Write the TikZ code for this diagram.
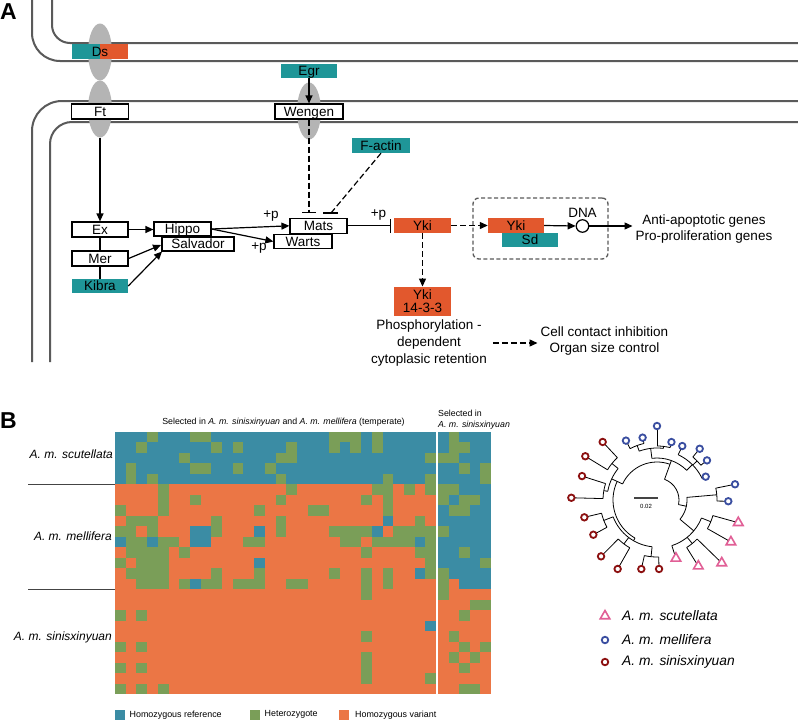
\documentclass[tikz,border=0pt]{standalone}
\usepackage{fontspec}
\setmainfont{Liberation Sans}
\usetikzlibrary{arrows.meta,shapes.geometric,calc}
\definecolor{tealA}{HTML}{1F9698}
\definecolor{orangeA}{HTML}{E2582D}
\definecolor{memgray}{HTML}{5A5A5A}
\definecolor{ellgray}{HTML}{B4B4B4}
\definecolor{hT}{HTML}{3B8CA4}
\definecolor{hG}{HTML}{7A9E58}
\definecolor{hO}{HTML}{EB7645}
\definecolor{mBlue}{HTML}{3A4EA0}
\definecolor{mRed}{HTML}{8C1010}
\definecolor{mPink}{HTML}{E15F96}
\definecolor{lineG}{HTML}{444444}
\newcommand\Tst[3]{\draw[tl] (#1:#2) -- (#1:#3);}
\newcommand\Tarc[3]{\draw[tl] (#1:#3) arc[start angle=#1, end angle=#2, radius=#3];}
\begin{document}
\begin{tikzpicture}[x=1pt,y=-1pt, font=\fontsize{13.5}{16}\selectfont,
  membrane/.style={draw=memgray, line width=2pt},
  memb/.style={ellipse, fill=ellgray, minimum width=24pt, minimum height=57pt, inner sep=0pt},
  lbl/.style={inner sep=0pt, text height=9.7pt, text depth=0pt},
  wbox/.style={lbl, draw=black, line width=1.2pt, fill=white, minimum height=15pt},
  tbox/.style={lbl, fill=tealA, minimum height=14.5pt},
  obox/.style={lbl, fill=orangeA, minimum height=15pt},
  conn/.style={line width=1.2pt},
  arr/.style={conn, -{Triangle[length=8pt,width=7pt]}},
  dsh/.style={dash pattern=on 6pt off 3pt},
  inh/.style={conn, -{Bar[width=14pt]}},
  txt/.style={inner sep=0pt, align=center},
  tl/.style={line width=0.8pt},
  bc/.style={circle, draw=mBlue, line width=1.8pt, fill=white, minimum size=6.5pt, inner sep=0pt},
  rc/.style={circle, draw=mRed, line width=1.8pt, fill=white, minimum size=6.5pt, inner sep=0pt},
  pt/.style={regular polygon, regular polygon sides=3, draw=mPink, line width=1.6pt, fill=white, minimum size=11pt, inner sep=0pt},
  hfont/.style={font=\fontsize{8.8}{11}\selectfont},
]
\useasboundingbox (0,0) rectangle (798,720);
\fill[white] (0,0) rectangle (798,720);

% ---------- Panel A ----------
\node[anchor=north west, inner sep=0pt, font=\fontsize{23}{23}\selectfont\bfseries] (labA) at (0,3) {A};

\draw[membrane, rounded corners=28pt] (32,-3) -- (32,61) -- (801,61);
\draw[membrane, rounded corners=18pt] (52,-3) -- (52,43) -- (801,43);
\draw[membrane, rounded corners=30pt] (32,362) -- (32,101) -- (801,101);
\draw[membrane, rounded corners=22pt] (50,362) -- (50,122) -- (801,122);

\node[memb] (dsE) at (100,52) {};
\node[memb] (ftE) at (100,109) {};
\node[memb] (wgE) at (309,111) {};

\fill[tealA] (72,44.3) rectangle (100,59);
\fill[orangeA] (100,44.3) rectangle (128,59);
\node[lbl] (ds) at (100,51.7) {Ds};

\node[wbox, minimum width=57pt] (ft) at (100,111.5) {Ft};
\node[tbox, minimum width=56pt, minimum height=14pt] (egr) at (309,71) {Egr};
\node[wbox, minimum width=68pt] (wengen) at (309,111.5) {Wengen};
\node[tbox, minimum width=58pt, minimum height=15pt] (factin) at (381,145.5) {F-actin};

\node[wbox, minimum width=56pt] (ex) at (100,229.5) {Ex};
\node[wbox, minimum width=56pt] (mer) at (100,258.5) {Mer};
\node[tbox, minimum width=56pt] (kibra) at (100,286) {Kibra};
\node[wbox, minimum width=57pt, minimum height=14pt] (hippo) at (182.5,229) {Hippo};
\node[wbox, minimum width=72pt, minimum height=14pt] (salvador) at (198,244) {Salvador};
\node[wbox, minimum width=57pt] (mats) at (318.5,225.8) {Mats};
\node[wbox, minimum width=58pt, minimum height=14.5pt] (warts) at (303,241.5) {Warts};

\node[obox, minimum width=57pt] (yki) at (422.5,225.5) {Yki};
\node[draw=memgray, line width=1.3pt, dash pattern=on 4pt off 2.5pt, rounded corners=6pt, minimum width=135pt, minimum height=61pt, inner sep=0pt] (nucbox) at (540.5,228.5) {};
\node[obox, minimum width=56pt] (ykin) at (516,225.5) {Yki};
\node[tbox, minimum width=56pt, minimum height=14pt] (sd) at (530,240) {Sd};
\node[circle, draw=black, line width=1.2pt, fill=white, minimum size=12.5pt, inner sep=0pt] (dna) at (582.5,226) {};
\node[lbl] (dnal) at (582.5,212.5) {DNA};
\node[txt] (genes) at (704,229) {Anti-apoptotic genes\\Pro-proliferation genes};

\node[fill=orangeA, inner sep=0pt, minimum width=57pt, minimum height=29.5pt, align=center, font=\fontsize{13.5}{13}\selectfont] (ykic) at (422.5,301.5) {Yki\\14-3-3};
\node[txt, font=\fontsize{13.5}{17}\selectfont] (phos) at (429,343) {Phosphorylation -\\dependent\\cytoplasic retention};
\node[txt] (cellc) at (604.5,341) {Cell contact inhibition\\Organ size control};

\node[lbl] (p1) at (271,214) {+p};
\node[lbl] (p2) at (259,246) {+p};
\node[lbl] (p3) at (378.5,213) {+p};

\coordinate (wbar) at (309,213);
\coordinate (fbar) at (331,213);
\coordinate (salvA) at (161,245);
\coordinate (salvB) at (162,251.5);

\draw[arr] (egr) -- (wengen);
\draw[conn, dsh, -{Bar[width=14pt]}] (wengen.south) -- (wbar);
\draw[conn, dsh] (factin.south) -- (fbar);
\draw[conn] ([xshift=-8pt]fbar) -- ([xshift=7pt]fbar);
\draw[arr] (ftE.south) -- (ex);
\draw[conn] (ex) -- (mer);
\draw[conn] (mer) -- (kibra);
\draw[arr] (ex.east) -- (ex.east -| hippo.west);
\draw[arr] (mer.east) -- (salvA);
\draw[arr] (kibra.east) -- (salvB);
\draw[arr] (hippo.east) -- (mats.west);
\draw[arr] (hippo.east) -- (warts.west);
\draw[inh, shorten >=3pt] (mats.east) -- (mats.east -| yki.west);
\draw[arr, dsh] (yki.east) -- (ykin.west);
\draw[arr] (ykin.east) -- (dna.west);
\draw[arr] (dna.east) -- ($(genes.west |- dna.east)+(-3,0)$);
\draw[arr, dsh] (yki) -- (ykic);
\draw[arr, dsh] ($(phos.east)+(6,0)$) -- ($(cellc.west |- phos.east)+(-3,0)$);

% ---------- Panel B ----------
\node[anchor=north west, inner sep=0pt, font=\fontsize{23}{23}\selectfont\bfseries] (labB) at (0,412) {B};

\node[hfont, inner sep=0pt] (htitle) at (283.5,422.7) {Selected in \textit{A. m. sinisxinyuan} and \textit{A. m. mellifera} (temperate)};
\node[hfont, anchor=west, align=left, inner sep=0pt] (rtitle) at (438,419.5) {Selected in\\\textit{A. m. sinisxinyuan}};

% heatmap backgrounds
\fill[hT] (115,431.7) rectangle (436,484.2);
\fill[hO] (115,484.2) rectangle (436,694.2);
\fill[hT] (438,431.7) rectangle (491,589.2);
\fill[hO] (438,589.2) rectangle (491,694.2);

\foreach \cc/\rr in {3/0,7/0,8/0,20/0,21/0,22/0,24/0,
  2/1,9/1,11/1,16/1,20/1,22/1,24/1,
  6/2,15/2,16/2,29/2,
  1/3,7/3,8/3,11/3,14/3,
  1/4,3/4,15/4,25/4,29/4,
  4/5,16/5,24/5,25/5,27/5,29/5,
  4/6,7/6,15/6,23/6,25/6,
  0/7,4/7,13/7,18/7,19/7,25/7,
  1/8,2/8,3/8,9/8,15/8,28/8,
  0/9,1/9,3/9,9/9,15/9,20/9,21/9,22/9,23/9,26/9,27/9,28/9,29/9,
  1/10,2/10,4/10,5/10,12/10,13/10,21/10,22/10,24/10,25/10,26/10,27/10,29/10,
  1/11,2/11,3/11,4/11,6/11,23/11,28/11,29/11,
  0/12,2/12,3/12,4/12,29/12,
  1/13,2/13,3/13,4/13,9/13,13/13,20/13,23/13,25/13,29/13,
  2/14,3/14,4/14,6/14,8/14,9/14,11/14,12/14,13/14,16/14,17/14,23/14,25/14,
  23/15,0/17,2/17,23/19,0/20,2/20,23/21,0/22,2/22,23/22,23/23,29/23,0/24,2/24,4/24}
  \fill[hG] ({115+10.7*\cc},{431.7+10.5*\rr}) rectangle ++(10.75,10.55);
\foreach \cc/\rr in {25/8,7/9,8/9,13/9,24/9,0/10,3/10,7/10,8/10,28/10,13/12,28/13,7/14,29/18}
  \fill[hT] ({115+10.7*\cc},{431.7+10.5*\rr}) rectangle ++(10.75,10.55);

\foreach \cc/\rr in {1/0,1/1,2/1,0/2,1/2,2/3,4/3,4/4,0/5,1/5,0/6,2/6,3/6,1/7,2/7,0/9,2/11,4/12,0/13,0/14,0/15,3/16,4/16,2/17,1/19,2/20,4/20,1/21,3/21,2/22,2/24,3/24}
  \fill[hG] ({438+10.6*\cc},{431.7+10.5*\rr}) rectangle ++(10.65,10.55);
\fill[hO] ({438+10.6*1},{431.7+10.5*14}) rectangle ++(10.65,10.55);

% row labels
\draw[line width=1.3pt, draw=lineG] (28,484.2) -- (115,484.2);
\draw[line width=1.3pt, draw=lineG] (28,589.2) -- (115,589.2);
\node[anchor=east, inner sep=0pt, font=\fontsize{12}{14}\selectfont\itshape] (lscu) at (113,454) {A. m. scutellata};
\node[anchor=east, inner sep=0pt, font=\fontsize{12}{14}\selectfont\itshape] (lmel) at (112,536) {A. m. mellifera};
\node[anchor=east, inner sep=0pt, font=\fontsize{12}{14}\selectfont\itshape] (lsin) at (112,637) {A. m. sinisxinyuan};

% heatmap legend
\fill[hT] (115,710) rectangle (124.5,719.5);
\node[hfont, anchor=west, inner sep=0pt, font=\fontsize{8.9}{11}\selectfont] (lgT) at (129.5,714.8) {Homozygous reference};
\fill[hG] (249.5,710) rectangle (259.5,719.5);
\node[hfont, anchor=west, inner sep=0pt, font=\fontsize{8.9}{11}\selectfont] (lgG) at (264.5,714.8) {Heterozygote};
\fill[hO] (339,710) rectangle (349,719.5);
\node[hfont, anchor=west, inner sep=0pt, font=\fontsize{8.9}{11}\selectfont] (lgO) at (355,714.8) {Homozygous variant};

% ---------- Tree ----------
\begin{scope}[shift={(657,500)}, yscale=-1]
% red clade + main blue clade
\Tarc{70}{155}{38}
\Tst{155}{38}{44}
\Tarc{155}{240}{44}
\Tst{155}{44}{50} \Tarc{141}{170}{50}
\Tst{141}{50}{58} \Tarc{133.1}{148.6}{58}
\Tst{170}{50}{54} \Tarc{162.3}{178.5}{54}
\Tst{240}{44}{47} \Tarc{201}{264}{47}
\Tst{201}{47}{57} \Tarc{193.4}{208.6}{57}
\Tst{233}{47}{55} \Tarc{225.2}{240.3}{55}
\Tst{264}{47}{57} \Tarc{257.2}{271.7}{57}
\Tst{133.1}{58}{79.5} \Tst{148.6}{58}{84} \Tst{162.3}{54}{78.7} \Tst{178.5}{54}{85.7}
\Tst{193.4}{57}{74.7} \Tst{208.6}{57}{72.5} \Tst{225.2}{55}{79.4} \Tst{240.3}{55}{79.4}
\Tst{257.2}{57}{70.8} \Tst{271.7}{57}{69}
% deep node on the right
\Tst{70}{22}{38}
\Tarc{-12}{70}{22}
% main blue clade
\Tst{70}{38}{42} \Tarc{45}{97}{42}
\Tst{97}{42}{52} \Tarc{83}{110}{52}
\Tst{110}{52}{58} \Tarc{103}{117.6}{58}
\Tst{83}{52}{54} \Tarc{76}{90}{54}
\Tst{117.6}{58}{67} \Tst{103}{58}{64} \Tst{90}{54}{74} \Tst{76}{54}{59.7}
\Tst{45}{42}{50} \Tarc{25.6}{64.9}{50}
\Tst{64.9}{50}{59.6} \Tst{25.6}{50}{54}
\Tst{44.3}{50}{56} \Tarc{38.4}{50.2}{56} \Tst{50.2}{56}{66.7} \Tst{38.4}{56}{63.8}
% right subtree: two blue + pink
\Tst{-12}{22}{30} \Tarc{-40}{5}{30}
\Tst{5}{30}{60} \Tarc{-1}{11.4}{60} \Tst{11.4}{60}{79.6} \Tst{-1}{60}{71.3}
\Tst{-40}{30}{48} \Tarc{-72}{-22}{48}
\Tst{-22}{48}{58} \Tarc{-29.6}{-15.6}{58} \Tst{-15.6}{58}{84.4} \Tst{-29.6}{58}{85}
\Tst{-51}{48}{56} \Tarc{-58}{-44.2}{56} \Tst{-44.2}{56}{90.3} \Tst{-58}{56}{78}
\Tst{-72}{48}{61.3}
\foreach \a/\d [count=\i] in {90/74,103/64,117.6/67,76/59.7,64.9/59.6,50.2/66.7,38.4/63.8,25.6/54,11.4/79.6,-1/71.3}
  \node[bc] (bl\i) at (\a:\d) {};
\foreach \a/\d [count=\i] in {133.1/79.5,148.6/84,162.3/78.7,178.5/85.7,193.4/74.7,208.6/72.5,225.2/79.4,240.3/79.4,257.2/70.8,271.7/69}
  \node[rc] (rl\i) at (\a:\d) {};
\foreach \a/\d [count=\i] in {-15.6/84.4,-29.6/85,-44.2/90.3,-58/78,-72/61.3}
  \node[pt] (pl\i) at (\a:\d) {};
\end{scope}
\coordinate (sbA) at (634,498);
\coordinate (sbB) at (658,498);
\draw[line width=1.3pt, draw=lineG] (sbA) -- (sbB);
\node[inner sep=0pt, font=\fontsize{6}{7}\selectfont] (sbl) at (646,506.5) {0.02};

% tree legend
\node[pt] (legS) at (605,616) {};
\node[anchor=west, inner sep=0pt, font=\fontsize{13.8}{16}\selectfont\itshape] (legSt) at (622,616) {A. m. scutellata};
\node[bc] (legM) at (605,640) {};
\node[anchor=west, inner sep=0pt, font=\fontsize{13.8}{16}\selectfont\itshape] (legMt) at (622,640) {A. m. mellifera};
\node[rc] (legX) at (605,662) {};
\node[anchor=west, inner sep=0pt, font=\fontsize{13.8}{16}\selectfont\itshape] (legXt) at (622,662) {A. m. sinisxinyuan};
\end{tikzpicture}
\end{document}
